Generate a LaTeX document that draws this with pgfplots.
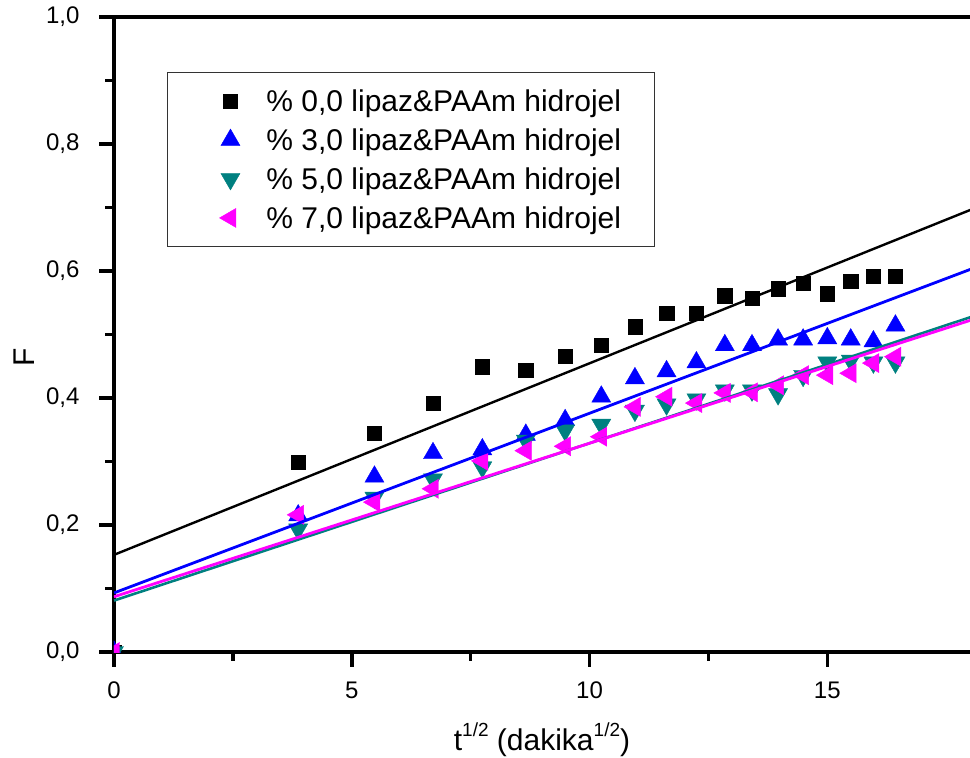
\documentclass[border=0pt]{standalone}
\usepackage{fontspec}
\setmainfont{Liberation Sans}
\usepackage{pgfplots}
\pgfplotsset{compat=1.18}
\definecolor{tealc}{RGB}{0,128,128}
\definecolor{magc}{RGB}{255,0,255}
\definecolor{bluec}{RGB}{0,0,255}
\begin{document}
\begin{tikzpicture}
\begin{axis}[
  scale only axis, width=865.5pt, height=635pt,
  xmin=0, xmax=18.2, ymin=0, ymax=1,
  enlargelimits=false,
  axis line style={line width=3.5pt, black},
  xtick={0,5,10,15}, ytick={0,0.2,0.4,0.6,0.8,1.0},
  minor x tick num=1, minor y tick num=1,
  xtick pos=left, ytick pos=left,
  tick align=outside,
  major tick length=15pt, minor tick length=9pt,
  tick style={line width=3.5pt, black},
  /pgf/number format/assume math mode=true,
  ticklabel style={font=\fontsize{24}{28}\selectfont},
  yticklabel style={/pgf/number format/.cd, fixed, fixed zerofill, precision=1, use comma},
  xticklabel style={/pgf/number format/.cd, fixed, precision=0},
  yticklabel shift=16pt,
  xticklabel shift=11pt,
  every axis x label/.style={at={(axis cs:9,0)}, anchor=base, yshift=-98pt, inner sep=0pt, font=\fontsize{30}{36}\selectfont},
  every axis y label/.style={at={(rel axis cs:0,0.464)}, xshift=-79pt, rotate=90, anchor=south, inner sep=0pt, font=\fontsize{30}{36}\selectfont},
  xlabel={t\raisebox{14pt}{\fontsize{19}{20}\selectfont 1/2} (dakika\raisebox{14pt}{\fontsize{19}{20}\selectfont 1/2})},
  ylabel={F},
  clip marker paths=true,
  legend style={at={(axis cs:1.114,0.9134)}, anchor=north west,
    draw=black!80, line width=1pt, fill=white,
    font=\fontsize{30}{36}\selectfont,
    inner xsep=30pt, inner ysep=14pt, row sep=9.7pt,
    nodes={inner sep=3pt}},
  legend cell align=left,
  legend image code/.code={\path[draw=none,fill=none] (0pt,-5pt) rectangle (66pt,5pt); \draw[mark repeat=2,mark phase=2,#1] plot coordinates {(0pt,0pt) (33pt,0pt) (66pt,0pt)};},
]
\addplot[only marks, mark=square*, mark size=7.2pt, black, mark options={line width=0.4pt}] coordinates {
(0,0) (3.873,0.299) (5.477,0.345) (6.708,0.392) (7.746,0.449) (8.660,0.444) (9.487,0.466) (10.247,0.483) (10.954,0.512) (11.619,0.534) (12.247,0.534) (12.845,0.561) (13.416,0.557) (13.964,0.572) (14.491,0.581) (15.0,0.564) (15.492,0.584) (15.969,0.592) (16.432,0.592)};
\addlegendentry{\% 0,0 lipaz\&PAAm hidrojel}
\addplot[only marks, mark=triangle*, mark size=11pt, bluec, mark options={line width=0.4pt}] coordinates {
(0,0) (3.873,0.215) (5.477,0.276) (6.708,0.313) (7.746,0.319) (8.660,0.342) (9.487,0.365) (10.247,0.402) (10.954,0.431) (11.619,0.442) (12.247,0.456) (12.845,0.483) (13.416,0.483) (13.964,0.492) (14.491,0.492) (15.0,0.494) (15.492,0.492) (15.969,0.489) (16.432,0.514)};
\addlegendentry{\% 3,0 lipaz\&PAAm hidrojel}
\addplot[only marks, mark=triangle*, mark size=11pt, tealc, mark options={rotate=180, line width=0.4pt}] coordinates {
(0,0) (3.873,0.193) (5.477,0.243) (6.708,0.272) (7.746,0.291) (8.660,0.333) (9.487,0.349) (10.247,0.358) (10.954,0.380) (11.619,0.390) (12.247,0.398) (12.845,0.412) (13.416,0.412) (13.964,0.406) (14.491,0.435) (15.0,0.456) (15.492,0.459) (15.969,0.456) (16.432,0.456)};
\addlegendentry{\% 5,0 lipaz\&PAAm hidrojel}
\addplot[only marks, mark=triangle*, mark size=11pt, magc, mark options={rotate=90, line width=0.4pt}] coordinates {
(0,0) (3.873,0.216) (5.477,0.236) (6.708,0.257) (7.746,0.301) (8.660,0.317) (9.487,0.324) (10.247,0.339) (10.954,0.386) (11.619,0.402) (12.247,0.392) (12.845,0.408) (13.416,0.409) (13.964,0.420) (14.491,0.436) (15.0,0.436) (15.492,0.439) (15.969,0.455) (16.432,0.465)};
\addlegendentry{\% 7,0 lipaz\&PAAm hidrojel}
\addplot[forget plot, black, line width=2.4pt, no marks] coordinates {(0,0.153) (18.2,0.702)};
\addplot[forget plot, bluec, line width=2.8pt, no marks] coordinates {(0,0.093) (18.2,0.608)};
\addplot[forget plot, tealc, line width=2.6pt, no marks] coordinates {(0,0.081) (18.2,0.532)};
\addplot[forget plot, magc, line width=2.8pt, no marks] coordinates {(0,0.087) (18.2,0.527)};
\end{axis}
\pgfresetboundingbox
\path[use as bounding box] ([xshift=-114pt,yshift=-106pt]current axis.south west) rectangle ([xshift=856pt,yshift=17pt]current axis.north west);
\end{tikzpicture}
\end{document}
